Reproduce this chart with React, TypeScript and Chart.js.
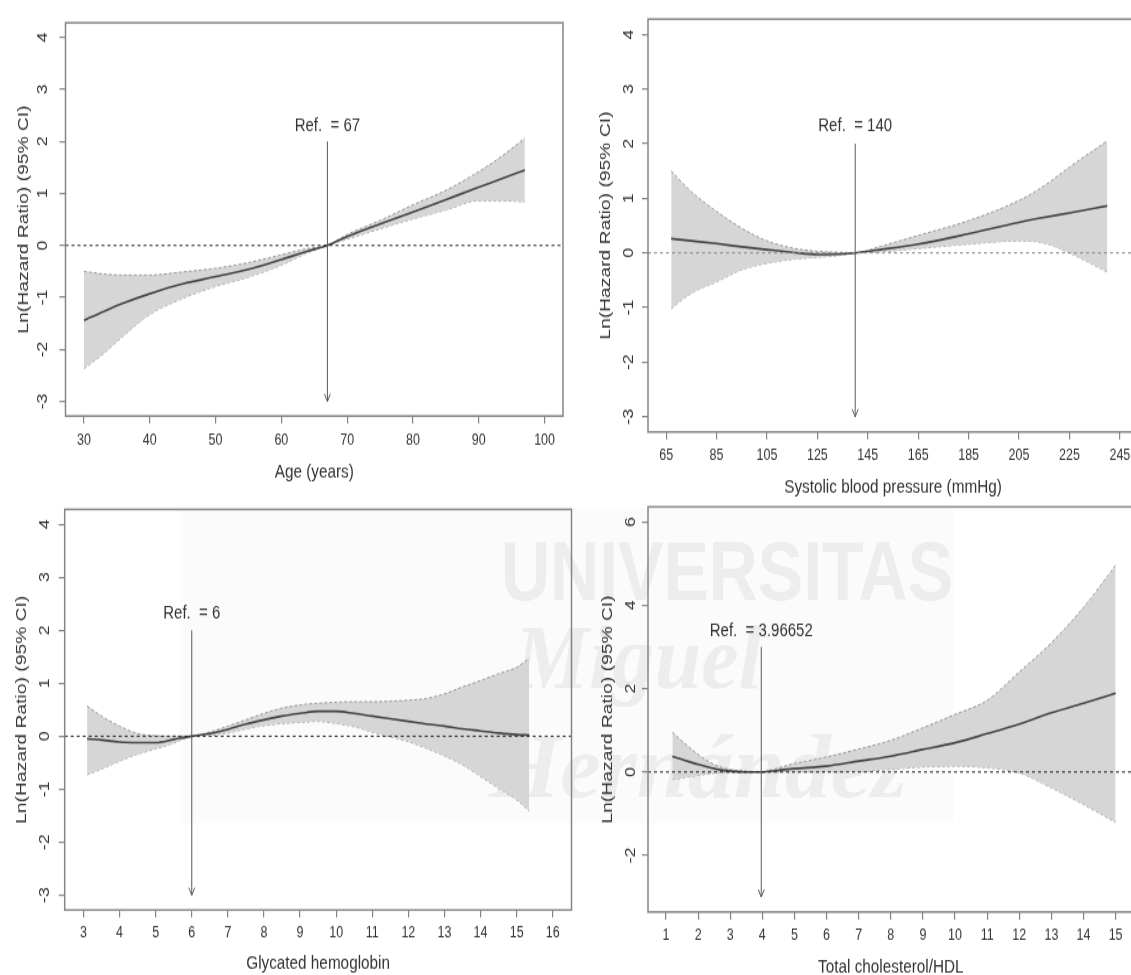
import React, { useEffect, useRef } from "react";
import { Chart, registerables } from "chart.js";

Chart.register(...registerables);

// ---------------- data ----------------
const Y_TITLE = "Ln(Hazard Ratio) (95% CI)";

// Panel 1: Age
const ageX = [30, 33, 36, 40, 45, 50, 55, 60, 64, 67, 70, 75, 80, 85, 90, 93, 97];
const ageFit = [-1.44, -1.27, -1.11, -0.93, -0.74, -0.6, -0.46, -0.27, -0.11, 0, 0.17, 0.41, 0.64, 0.88, 1.12, 1.26, 1.45];
const ageUpper = [-0.5, -0.55, -0.57, -0.57, -0.51, -0.44, -0.33, -0.18, -0.06, 0, 0.21, 0.48, 0.78, 1.06, 1.42, 1.67, 2.06];
const ageLower = [-2.37, -2.08, -1.74, -1.33, -1.02, -0.79, -0.61, -0.38, -0.14, 0, 0.12, 0.32, 0.51, 0.68, 0.86, 0.86, 0.84];
const ageTicks = [30, 40, 50, 60, 70, 80, 90, 100];

// Panel 2: Systolic blood pressure
const sbpX = [67, 75, 85, 95, 105, 115, 125, 135, 140, 150, 165, 185, 205, 215, 225, 240];
const sbpFit = [0.26, 0.22, 0.17, 0.11, 0.06, 0.01, -0.03, -0.02, 0, 0.06, 0.16, 0.35, 0.56, 0.65, 0.73, 0.86];
const sbpUpper = [1.5, 1.12, 0.76, 0.45, 0.22, 0.09, 0.03, 0.01, 0, 0.12, 0.32, 0.59, 0.96, 1.23, 1.57, 2.05];
const sbpLower = [-1.02, -0.74, -0.53, -0.31, -0.19, -0.12, -0.08, -0.04, 0, 0.02, 0.08, 0.16, 0.22, 0.18, 0.0, -0.35];
const sbpTicks = [65, 85, 105, 125, 145, 165, 185, 205, 225, 245];

// Panel 3: Glycated hemoglobin
const hbX = [3.1, 3.5, 4, 4.5, 5, 5.5, 6, 6.5, 7, 7.5, 8, 8.5, 9, 9.5, 10, 10.5, 11, 11.5, 12, 12.5, 13, 13.5, 14, 14.5, 15, 15.35];
const hbFit = [-0.05, -0.07, -0.11, -0.12, -0.12, -0.06, 0, 0.05, 0.13, 0.23, 0.31, 0.38, 0.43, 0.47, 0.47, 0.43, 0.38, 0.33, 0.28, 0.23, 0.19, 0.14, 0.1, 0.06, 0.03, 0.02];
const hbUpper = [0.57, 0.38, 0.19, 0.05, 0.01, 0.0, 0, 0.08, 0.19, 0.31, 0.43, 0.53, 0.59, 0.62, 0.64, 0.65, 0.65, 0.66, 0.68, 0.71, 0.8, 0.93, 1.05, 1.18, 1.3, 1.47];
const hbLower = [-0.73, -0.62, -0.47, -0.34, -0.24, -0.13, 0, 0.02, 0.06, 0.14, 0.2, 0.24, 0.26, 0.28, 0.24, 0.18, 0.08, -0.01, -0.1, -0.23, -0.37, -0.54, -0.76, -0.98, -1.2, -1.41];
const hbTicks = [3, 4, 5, 6, 7, 8, 9, 10, 11, 12, 13, 14, 15, 16];

// Panel 4: Total cholesterol / HDL
const chX = [1.2, 1.5, 2, 2.5, 3, 3.5, 3.97, 4.5, 5, 6, 7, 8, 9, 10, 11, 12, 13, 14, 15];
const chFit = [0.37, 0.3, 0.18, 0.08, 0.02, 0.0, 0, 0.04, 0.08, 0.14, 0.26, 0.38, 0.54, 0.7, 0.92, 1.15, 1.42, 1.65, 1.89];
const chUpper = [0.95, 0.74, 0.42, 0.18, 0.06, 0.02, 0, 0.1, 0.2, 0.36, 0.55, 0.76, 1.06, 1.38, 1.72, 2.4, 3.1, 3.95, 4.96];
const chLower = [-0.18, -0.14, -0.08, -0.03, -0.01, -0.01, 0, 0.0, 0.0, 0.0, 0.01, 0.07, 0.12, 0.14, 0.1, -0.02, -0.38, -0.78, -1.21];
const chTicks = [1, 2, 3, 4, 5, 6, 7, 8, 9, 10, 11, 12, 13, 14, 15];

const lnTicks = [-3, -2, -1, 0, 1, 2, 3, 4];
const chYTicks = [-2, 0, 2, 4, 6];

// ---------------- style ----------------
const SY = 1.26; // the original figure is stretched vertically
const FONT = "'Liberation Sans', Arial, Helvetica, sans-serif";
const TITLE_SIZE = 15.3;
const XTICK_SIZE = 12.5;
const YTICK_SIZE = 14;
const REF_SIZE = 15;
const TL = 6;
const AXIS_COLOR = "#858585";
const TEXT_COLOR = "#333333";
const BAND_FILL = "#d6d6d6";
const BAND_EDGE = "#9a9a9a";
const FIT_COLOR = "#444444";

type Box = { l: number; r: number; t: number; b: number };
type PanelSpec = {
  left: number; top: number; width: number; height: number;
  box: Box;
  yTitleX: number; yTickX: number; xTickY: number; xTitleY: number;
  xMin: number; xMax: number; yMin: number; yMax: number;
  xTicks: number[]; yTicks: number[];
  xs: number[]; fit: number[]; lower: number[]; upper: number[];
  xTitle: string;
  ref: number; refLabel: string; arrowTop: number; arrowBottom: number; refTextY: number;
  zeroColor: string;
};

function Panel({ s }: { s: PanelSpec }) {
  const ref = useRef<HTMLCanvasElement>(null);
  const W = s.width;
  const H = Math.round(s.height / SY);

  useEffect(() => {
    const canvas = ref.current;
    if (!canvas) return;
    const LH = TITLE_SIZE * 1.2;
    const padLeft = s.yTitleX - s.left - LH / 2;
    const yAxisW = s.box.l - s.left - padLeft;
    const padTop = (s.box.t - s.top) / SY;
    const padRight = s.left + W - s.box.r;
    const axisTop = (s.box.b - s.top) / SY;
    const xAxisBottom = (s.xTitleY - s.top) / SY + LH / 2;
    const xAxisH = xAxisBottom - axisTop;
    const padBottom = H - xAxisBottom;

    const xTickPad = (s.xTickY - s.box.b) / SY - TL - (XTICK_SIZE * 1.2) / 2;
    const mctx = document.createElement("canvas").getContext("2d")!;
    mctx.font = `${YTICK_SIZE}px ${FONT}`;
    const widest = Math.max(...s.yTicks.map((v) => mctx.measureText(String(v)).width));
    const yTickPad = s.box.l - s.yTickX - TL - widest / 2;

    const overlay = {
      id: "overlay",
      afterDatasetsDraw(chart: any) {
        const { ctx, chartArea: a, scales } = chart;
        const x = scales.x;
        const y = scales.y;
        ctx.save();
        const y0 = y.getPixelForValue(0);
        ctx.strokeStyle = s.zeroColor;
        ctx.lineWidth = 1;
        ctx.setLineDash([3, 3]);
        ctx.beginPath();
        ctx.moveTo(a.left, y0);
        ctx.lineTo(a.right, y0);
        ctx.stroke();
        ctx.setLineDash([]);
        const xr = x.getPixelForValue(s.ref);
        const yt = y.getPixelForValue(s.arrowTop);
        const yb = y.getPixelForValue(s.arrowBottom);
        ctx.strokeStyle = "#5a5a5a";
        ctx.beginPath();
        ctx.moveTo(xr, yt);
        ctx.lineTo(xr, yb);
        ctx.stroke();
        ctx.beginPath();
        ctx.moveTo(xr - 3, yb - 6);
        ctx.lineTo(xr, yb);
        ctx.lineTo(xr + 3, yb - 6);
        ctx.stroke();
        ctx.fillStyle = TEXT_COLOR;
        ctx.font = `${REF_SIZE}px ${FONT}`;
        ctx.textAlign = "center";
        ctx.textBaseline = "middle";
        ctx.fillText(s.refLabel, xr, y.getPixelForValue(s.refTextY));
        ctx.restore();
      },
      afterDraw(chart: any) {
        const { ctx, chartArea: a } = chart;
        ctx.save();
        ctx.strokeStyle = AXIS_COLOR;
        ctx.lineWidth = 1.5;
        ctx.strokeRect(a.left, a.top, a.right - a.left, a.bottom - a.top);
        ctx.restore();
      },
    };

    const pts = (vals: number[]) => s.xs.map((x, i) => ({ x, y: vals[i] }));
    const common = { pointRadius: 0, tension: 0.4, cubicInterpolationMode: "monotone" as const };

    const chart = new Chart(canvas, {
      type: "line",
      data: {
        datasets: [
          { label: "fit", data: pts(s.fit), borderColor: FIT_COLOR, borderWidth: 1.6, fill: false, ...common },
          { label: "upper", data: pts(s.upper), borderColor: BAND_EDGE, borderWidth: 1, borderDash: [3, 2], backgroundColor: BAND_FILL, fill: "+1", ...common },
          { label: "lower", data: pts(s.lower), borderColor: BAND_EDGE, borderWidth: 1, borderDash: [3, 2], fill: false, ...common },
        ],
      },
      options: {
        responsive: false,
        animation: false,
        devicePixelRatio: 1,
        events: [],
        layout: { padding: { left: padLeft, right: padRight, top: padTop, bottom: padBottom } },
        plugins: { legend: { display: false }, tooltip: { enabled: false } },
        scales: {
          x: {
            type: "linear",
            min: s.xMin,
            max: s.xMax,
            afterBuildTicks: (sc: any) => { sc.ticks = s.xTicks.map((v) => ({ value: v })); },
            afterFit: (sc: any) => { sc.height = xAxisH; },
            ticks: { autoSkip: false, maxRotation: 0, minRotation: 0, padding: xTickPad, color: TEXT_COLOR, font: { family: FONT, size: XTICK_SIZE }, callback: (v: any) => String(v) },
            grid: { drawOnChartArea: false, drawTicks: true, tickLength: TL, color: AXIS_COLOR, lineWidth: 1.2 },
            border: { display: false },
            title: { display: true, text: s.xTitle, color: TEXT_COLOR, font: { family: FONT, size: TITLE_SIZE }, padding: 0 },
          },
          y: {
            type: "linear",
            min: s.yMin,
            max: s.yMax,
            afterBuildTicks: (sc: any) => { sc.ticks = s.yTicks.map((v) => ({ value: v })); },
            afterFit: (sc: any) => { sc.width = yAxisW; },
            ticks: { autoSkip: false, minRotation: 90, maxRotation: 90, crossAlign: "center", padding: yTickPad, color: TEXT_COLOR, font: { family: FONT, size: YTICK_SIZE }, callback: (v: any) => String(v) },
            grid: { drawOnChartArea: false, drawTicks: true, tickLength: TL, color: AXIS_COLOR, lineWidth: 1.2 },
            border: { display: false },
            title: { display: true, text: Y_TITLE, color: TEXT_COLOR, font: { family: FONT, size: TITLE_SIZE }, padding: 0 },
          },
        },
      },
      plugins: [overlay],
    } as any);
    return () => chart.destroy();
  }, [s, W, H]);

  return (
    <canvas
      ref={ref}
      width={W}
      height={H}
      style={{
        position: "absolute",
        left: s.left,
        top: s.top,
        width: W,
        height: H,
        transform: `scaleY(${SY})`,
        transformOrigin: "0 0",
      }}
    />
  );
}

const panels: PanelSpec[] = [
  {
    left: 0, top: 0, width: 570, height: 500,
    box: { l: 65.5, r: 563, t: 13.3, b: 416 },
    yTitleX: 23.6, yTickX: 43.6, xTickY: 440, xTitleY: 472,
    xMin: 27.2, xMax: 102.8, yMin: -3.28, yMax: 4.28,
    xTicks: ageTicks, yTicks: lnTicks,
    xs: ageX, fit: ageFit, lower: ageLower, upper: ageUpper,
    xTitle: "Age (years)",
    ref: 67, refLabel: "Ref.  = 67", arrowTop: 2, arrowBottom: -3, refTextY: 2.3,
    zeroColor: "#222222",
  },
  {
    left: 570, top: 0, width: 575, height: 505,
    box: { l: 648, r: 1138, t: 15.5, b: 432 },
    yTitleX: 605.8, yTickX: 629, xTickY: 455, xTitleY: 487,
    xMin: 57.8, xMax: 252.2, yMin: -3.28, yMax: 4.28,
    xTicks: sbpTicks, yTicks: lnTicks,
    xs: sbpX, fit: sbpFit, lower: sbpLower, upper: sbpUpper,
    xTitle: "Systolic blood pressure (mmHg)",
    ref: 140, refLabel: "Ref.  = 140", arrowTop: 2, arrowBottom: -3, refTextY: 2.32,
    zeroColor: "#8a8a8a",
  },
  {
    left: 0, top: 490, width: 580, height: 490,
    box: { l: 64.7, r: 571.5, t: 507.3, b: 910 },
    yTitleX: 21.8, yTickX: 45.5, xTickY: 933.3, xTitleY: 963,
    xMin: 2.48, xMax: 16.52, yMin: -3.28, yMax: 4.28,
    xTicks: hbTicks, yTicks: lnTicks,
    xs: hbX, fit: hbFit, lower: hbLower, upper: hbUpper,
    xTitle: "Glycated hemoglobin",
    ref: 6, refLabel: "Ref.  = 6", arrowTop: 2, arrowBottom: -3, refTextY: 2.32,
    zeroColor: "#222222",
  },
  {
    left: 570, top: 490, width: 575, height: 490,
    box: { l: 648, r: 1133.6, t: 506.7, b: 912 },
    yTitleX: 607.6, yTickX: 630.8, xTickY: 935, xTitleY: 966.7,
    xMin: 0.44, xMax: 15.56, yMin: -3.36, yMax: 6.36,
    xTicks: chTicks, yTicks: chYTicks,
    xs: chX, fit: chFit, lower: chLower, upper: chUpper,
    xTitle: "Total cholesterol/HDL",
    ref: 3.96652, refLabel: "Ref.  = 3.96652", arrowTop: 3, arrowBottom: -3, refTextY: 3.38,
    zeroColor: "#222222",
  },
];

function Watermark() {
  return (
    <svg
      width={1131}
      height={975}
      style={{ position: "absolute", left: 0, top: 0, pointerEvents: "none" }}
    >
      <rect x={180} y={508} width={773} height={315} fill="#fbfbfb" />
      <text x={501} y={600} textLength={452} lengthAdjust="spacingAndGlyphs" fontFamily="'Liberation Sans', Arial, sans-serif" fontWeight="bold" fontSize={84} fill="#ededed">
        UNIVERSITAS
      </text>
      <text x={514} y={688} textLength={248} lengthAdjust="spacingAndGlyphs" fontFamily="'Liberation Serif', 'DejaVu Serif', serif" fontStyle="italic" fontWeight="bold" fontSize={92} fill="#ededed">
        Miguel
      </text>
      <text x={489} y={797} textLength={418} lengthAdjust="spacingAndGlyphs" fontFamily="'Liberation Serif', 'DejaVu Serif', serif" fontStyle="italic" fontWeight="bold" fontSize={92} fill="#ededed">
        Hernández
      </text>
    </svg>
  );
}

export default function App() {
  return (
    <div
      style={{
        position: "absolute",
        left: 0,
        top: 0,
        width: 1131,
        height: 975,
        overflow: "hidden",
        background: "#ffffff",
      }}
    >
      <Watermark />
      {panels.map((p, i) => (
        <Panel key={i} s={p} />
      ))}
    </div>
  );
}
